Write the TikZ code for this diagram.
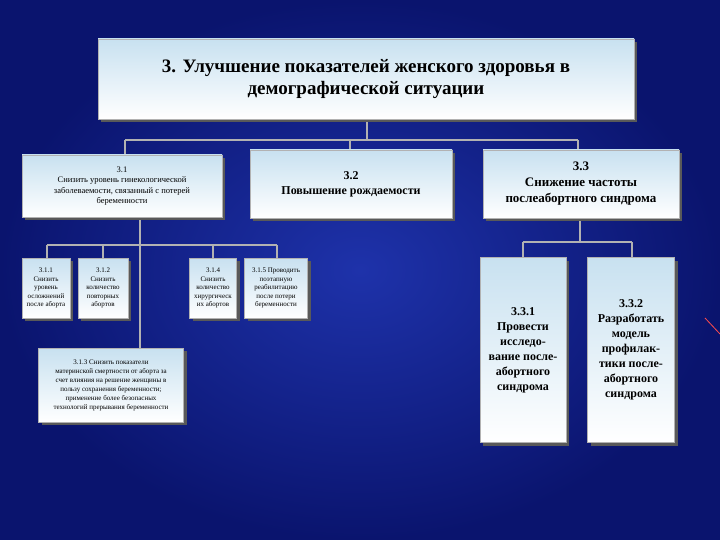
\documentclass[tikz,border=0pt]{standalone}
\usepackage{fontspec}
\setmainfont{Liberation Serif}
\usetikzlibrary{shadows}
\definecolor{bgA}{RGB}{10,20,110}
\definecolor{bgB}{RGB}{30,50,170}
\definecolor{boxtop}{RGB}{200,225,240}
\tikzset{
 bx/.style={draw=gray!60,line width=0.6pt,top color=boxtop,bottom color=white,align=center,inner sep=1pt,
   drop shadow={shadow xshift=3pt,shadow yshift=-3pt,fill=gray!70!black,opacity=1}},
 ln/.style={draw=gray!60!white,line width=1.6pt},
}
\begin{document}
\begin{tikzpicture}[x=1pt,y=-1pt]
\shade[inner color=bgB,outer color=bgA] (0,0) rectangle (720,540);
\useasboundingbox (0,0) rectangle (720,540);
\draw[ln] (367,120) -- (367,140);
\draw[ln] (125,140) -- (578,140);
\draw[ln] (125,140) -- (125,155);
\draw[ln] (350,140) -- (350,150);
\draw[ln] (578,140) -- (578,150);
\draw[ln] (140,218) -- (140,348);
\draw[ln] (47,245) -- (277,245);
\foreach \x in {47,103,213,277} \draw[ln] (\x,245) -- (\x,258);
\draw[ln] (580,218) -- (580,242);
\draw[ln] (523,242) -- (632,242);
\draw[ln] (523,242) -- (523,258);
\draw[ln] (632,242) -- (632,258);
\node[bx,minimum width=536,minimum height=80,font=\bfseries\fontsize{19}{22}\selectfont] (m) at (366,79)
 {3. Улучшение показателей женского здоровья в\\демографической ситуации};
\node[bx,minimum width=200,minimum height=62,font=\fontsize{8.5}{10.5}\selectfont] (a) at (122,186)
 {3.1\\Снизить уровень гинекологической\\заболеваемости, связанный с потерей\\беременности};
\node[bx,minimum width=202,minimum height=68,font=\bfseries\fontsize{12}{15}\selectfont] (b) at (351,184)
 {3.2\\Повышение рождаемости};
\node[bx,minimum width=196,minimum height=68,font=\bfseries\fontsize{13}{16}\selectfont] (c) at (581,184)
 {3.3\\Снижение частоты\\послеабортного синдрома};
\tikzset{sm/.style={bx,minimum height=60,font=\fontsize{7}{8.5}\selectfont}}
\node[sm,minimum width=48] (a1) at (46,288) {3.1.1\\Снизить\\уровень\\осложнений\\после аборта};
\node[sm,minimum width=50] (a2) at (103,288) {3.1.2\\Снизить\\количество\\повторных\\абортов};
\node[sm,minimum width=47] (a4) at (213,288) {3.1.4\\Снизить\\количество\\хирургическ\\их абортов};
\node[sm,minimum width=63] (a5) at (276,288) {3.1.5 Проводить\\поэтапную\\реабилитацию\\после потери\\беременности};
\node[bx,minimum width=145,minimum height=74,font=\fontsize{7}{9}\selectfont] (a3) at (111,385)
 {3.1.3 Снизить показатели\\материнской смертности от аборта за\\счет влияния на решение женщины в\\пользу сохранения беременности;\\применение более безопасных\\технологий прерывания беременности};
\node[bx,minimum width=86,minimum height=185,font=\bfseries\fontsize{12}{15}\selectfont] (c1) at (523,350)
 {3.3.1\\Провести\\исследо-\\вание после-\\абортного\\синдрома};
\node[bx,minimum width=87,minimum height=185,font=\bfseries\fontsize{12}{15}\selectfont] (c2) at (631,350)
 {3.3.2\\Разработать\\модель\\профилак-\\тики после-\\абортного\\синдрома};
\draw[red!70!white,line width=0.8pt] (705,318) -- (720,334);
\end{tikzpicture}
\end{document}
